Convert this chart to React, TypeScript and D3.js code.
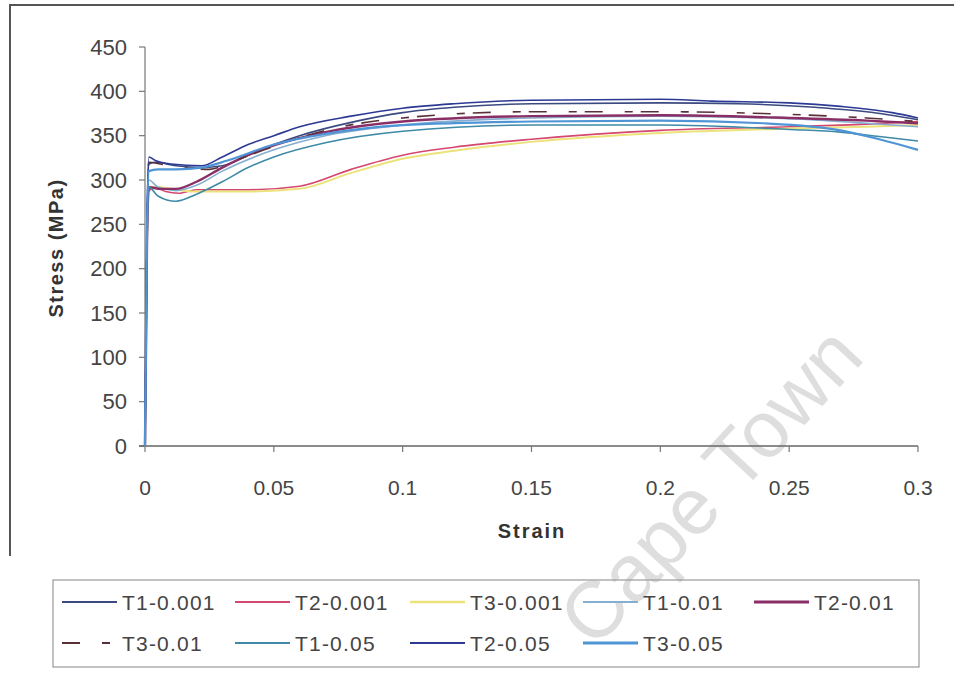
import React from "react";
import * as d3 from "d3";

// Tensile test curves: stress (MPa) against strain for three specimens at three strain rates
const seriesNames = [
  "T1-0.001", "T2-0.001", "T3-0.001", "T1-0.01", "T2-0.01",
  "T3-0.01", "T1-0.05", "T2-0.05", "T3-0.05",
];

const t1_0001: [number, number][] = [
  [0, 0], [0.0008, 240], [0.0015, 318], [0.004, 320], [0.012, 316], [0.022, 314],
  [0.03, 316], [0.04, 328], [0.05, 340], [0.06, 350], [0.08, 365], [0.1, 376],
  [0.12, 382], [0.15, 386], [0.2, 387], [0.23, 386], [0.26, 382], [0.28, 377], [0.3, 368],
];
const t2_0001: [number, number][] = [
  [0, 0], [0.0008, 230], [0.0015, 288], [0.004, 291], [0.008, 287], [0.013, 285],
  [0.02, 289], [0.04, 289], [0.06, 293], [0.08, 312], [0.1, 328], [0.12, 337],
  [0.15, 346], [0.2, 356], [0.25, 360], [0.28, 363], [0.3, 366],
];
const t3_0001: [number, number][] = [
  [0, 0], [0.0008, 235], [0.0015, 292], [0.005, 292], [0.01, 290], [0.02, 287],
  [0.04, 287], [0.06, 290], [0.08, 308], [0.1, 324], [0.12, 333], [0.15, 343],
  [0.2, 353], [0.25, 358], [0.28, 360], [0.3, 362],
];
const t1_001: [number, number][] = [
  [0, 0], [0.0008, 240], [0.0015, 300], [0.005, 292], [0.012, 288], [0.02, 294],
  [0.03, 310], [0.05, 334], [0.07, 350], [0.1, 362], [0.15, 370], [0.2, 372],
  [0.25, 369], [0.28, 364], [0.3, 360],
];
const t2_001: [number, number][] = [
  [0, 0], [0.0008, 235], [0.0015, 292], [0.006, 290], [0.012, 290], [0.02, 298],
  [0.03, 314], [0.04, 328], [0.05, 339], [0.07, 354], [0.1, 366], [0.15, 372],
  [0.2, 373], [0.25, 370], [0.28, 367], [0.3, 364],
];
const t3_001: [number, number][] = [
  [0, 0], [0.0008, 250], [0.0015, 320], [0.006, 318], [0.015, 314], [0.025, 312],
  [0.035, 322], [0.05, 338], [0.07, 356], [0.1, 370], [0.15, 377], [0.2, 377],
  [0.25, 374], [0.28, 370], [0.3, 366],
];
const t1_005: [number, number][] = [
  [0, 0], [0.0008, 230], [0.0015, 292], [0.005, 282], [0.012, 276], [0.02, 284],
  [0.03, 298], [0.04, 314], [0.05, 326], [0.07, 342], [0.1, 355], [0.15, 362],
  [0.2, 362], [0.25, 357], [0.27, 354], [0.285, 349], [0.3, 344],
];
const t2_005: [number, number][] = [
  [0, 0], [0.0008, 260], [0.0015, 326], [0.004, 322], [0.01, 318], [0.022, 316],
  [0.03, 326], [0.04, 340], [0.05, 350], [0.06, 360], [0.08, 372], [0.1, 381],
  [0.12, 386], [0.15, 390], [0.2, 391], [0.22, 389], [0.25, 387], [0.27, 383],
  [0.29, 376], [0.3, 370],
];
const t3_005: [number, number][] = [
  [0, 0], [0.0008, 250], [0.0015, 310], [0.005, 312], [0.012, 312], [0.022, 314],
  [0.032, 322], [0.05, 340], [0.07, 352], [0.1, 362], [0.15, 366], [0.2, 367],
  [0.24, 364], [0.27, 356], [0.285, 346], [0.3, 334],
];

const seriesData = [
  t1_0001, t2_0001, t3_0001, t1_001, t2_001, t3_001, t1_005, t2_005, t3_005,
];
const seriesColors = [
  "#3b4a80", "#d4476f", "#ece27a", "#86aed0", "#8a2f66",
  "#5a3038", "#3f8aa6", "#2c3a94", "#4f95d6",
];
const seriesWidths = [1.6, 1.6, 2, 1.6, 2.4, 1.6, 1.6, 1.6, 2.2];
const seriesDashes = ["", "", "", "", "", "18 22 8 8", "", "", ""];

const yTicks = [0, 50, 100, 150, 200, 250, 300, 350, 400, 450];
const xTicks = [0, 0.05, 0.1, 0.15, 0.2, 0.25, 0.3];
const xTickLabels = ["0", "0.05", "0.1", "0.15", "0.2", "0.25", "0.3"];

export default function App() {
  const x = d3.scaleLinear().domain([0, 0.3]).range([145, 918]);
  const y = d3.scaleLinear().domain([0, 450]).range([446, 47]);
  const line = d3
    .line<[number, number]>()
    .x((d) => x(d[0]))
    .y((d) => y(d[1]))
    .curve(d3.curveMonotoneX);

  const font = "'Liberation Sans', Arial, sans-serif";
  const legendCols = [62, 235, 410, 583, 754];
  const legendRows = [602, 643];

  return (
    <svg
      width={954}
      height={673}
      style={{ position: "absolute", left: 0, top: 0, background: "#fff" }}
      fontFamily={font}
    >
      <rect x={0} y={0} width={954} height={673} fill="#fff" />
      {/* outer chart frame */}
      <path d="M10,556 V5 H954" fill="none" stroke="#555" strokeWidth={2} />

      {/* watermark */}
      <text
        x={715}
        y={490}
        transform="rotate(-47 715 490)"
        textAnchor="middle"
        dominantBaseline="middle"
        fontSize={80}
        fill="#dedede"
        fontFamily={font}
      >
        Cape Town
      </text>

      {/* y axis */}
      <line x1={x(0)} x2={x(0)} y1={y(450)} y2={y(0)} stroke="#777" strokeWidth={1.2} />
      {yTicks.map((t) => (
        <g key={"y" + t}>
          <line x1={x(0) - 6} x2={x(0)} y1={y(t)} y2={y(t)} stroke="#777" strokeWidth={1.2} />
          <text
            x={127}
            y={y(t)}
            textAnchor="end"
            dominantBaseline="central"
            fontSize={22}
            fill="#444"
          >
            {t}
          </text>
        </g>
      ))}

      {/* x axis */}
      <line x1={x(0) - 6} x2={x(0.3)} y1={y(0)} y2={y(0)} stroke="#666" strokeWidth={1.4} />
      {xTicks.map((t, i) => (
        <g key={"x" + t}>
          <line x1={x(t)} x2={x(t)} y1={y(0)} y2={y(0) + 6} stroke="#777" strokeWidth={1.2} />
          <text x={x(t)} y={487} textAnchor="middle" dominantBaseline="central" fontSize={21} fill="#444">
            {xTickLabels[i]}
          </text>
        </g>
      ))}

      {/* axis titles */}
      <text
        transform={`translate(56,248) rotate(-90)`}
        textAnchor="middle"
        dominantBaseline="central"
        fontSize={20}
        fontWeight="bold"
        letterSpacing={1.5}
        fill="#333"
      >
        Stress (MPa)
      </text>
      <text
        x={532}
        y={531}
        textAnchor="middle"
        dominantBaseline="central"
        fontSize={20}
        fontWeight="bold"
        letterSpacing={2}
        fill="#333"
      >
        Strain
      </text>

      {/* curves */}
      {seriesData.map((pts, i) => (
        <path
          key={seriesNames[i]}
          d={line(pts) || ""}
          fill="none"
          stroke={seriesColors[i]}
          strokeWidth={seriesWidths[i]}
          strokeDasharray={seriesDashes[i] || undefined}
          strokeLinejoin="round"
        />
      ))}

      {/* legend */}
      <rect x={53} y={580} width={866} height={87} fill="none" stroke="#999" strokeWidth={1.2} />
      {seriesNames.map((name, i) => {
        const cx = legendCols[i % 5];
        const cy = legendRows[Math.floor(i / 5)];
        return (
          <g key={"lg" + name}>
            <line
              x1={cx}
              x2={cx + 55}
              y1={cy}
              y2={cy}
              stroke={seriesColors[i]}
              strokeWidth={seriesWidths[i] + 0.6}
              strokeDasharray={seriesDashes[i] || undefined}
            />
            <text
              x={cx + 60}
              y={cy}
              dominantBaseline="central"
              fontSize={21}
              letterSpacing={1.2}
              fill="#444"
            >
              {name}
            </text>
          </g>
        );
      })}
    </svg>
  );
}
